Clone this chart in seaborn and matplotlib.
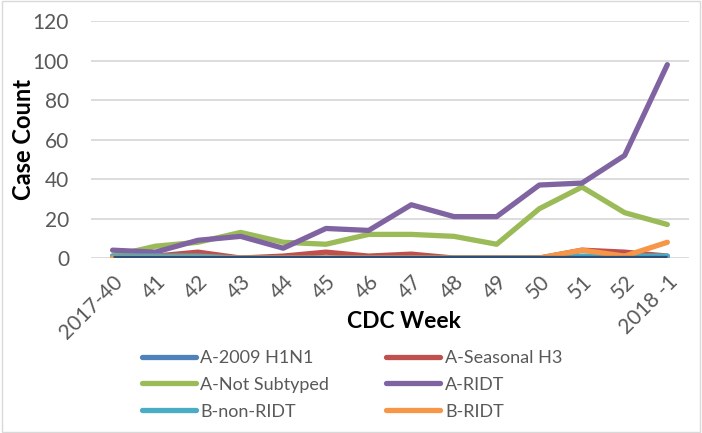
import numpy as np
import pandas as pd
import matplotlib
matplotlib.use("Agg")
import matplotlib.pyplot as plt
from matplotlib.lines import Line2D
from matplotlib.patches import Rectangle
import seaborn as sns

weeks = ['2017-40', '41', '42', '43', '44', '45', '46', '47', '48', '49',
         '50', '51', '52', '2018 -1']
h1n1 = [0, 0, 0, 0, 0, 0, 0, 0, 0, 0, 0, 0, 0, 0]
seasonal_h3 = [1, 1, 3, 0, 1, 3, 1, 2, 0, 0, 0, 4, 3, 1]
not_subtyped = [1, 6, 8, 13, 8, 7, 12, 12, 11, 7, 25, 36, 23, 17]
a_ridt = [4, 3, 9, 11, 5, 15, 14, 27, 21, 21, 37, 38, 52, 98]
b_non_ridt = [1, 1, 1, 0, 0, 0, 0, 0, 0, 0, 0, 1, 1, 1]
b_ridt = [0, 0, 0, 0, 0, 0, 0, 0, 0, 0, 0, 4, 1, 8]

series = {
    'A-2009 H1N1': h1n1,
    'A-Seasonal H3': seasonal_h3,
    'A-Not Subtyped': not_subtyped,
    'A-RIDT': a_ridt,
    'B-non-RIDT': b_non_ridt,
    'B-RIDT': b_ridt,
}
colors = {
    'A-2009 H1N1': '#4F81BD',
    'A-Seasonal H3': '#C0504D',
    'A-Not Subtyped': '#9BBB59',
    'A-RIDT': '#8064A2',
    'B-non-RIDT': '#4BACC6',
    'B-RIDT': '#F79646',
}

rows = []
for name, vals in series.items():
    for i, v in enumerate(vals):
        rows.append({'pos': i, 'count': v, 'series': name})
df = pd.DataFrame(rows)

sns.set_style("white")
plt.rcParams['font.family'] = ['Lato', 'DejaVu Sans']

fig = plt.figure(figsize=(7.02, 4.33), dpi=100)
ax = fig.add_axes([0.130, 0.404, 0.851, 0.547])

order = ['A-Seasonal H3', 'A-Not Subtyped', 'A-RIDT', 'B-non-RIDT', 'B-RIDT']
pal = {k: colors[k] for k in order}
sns.lineplot(data=df[df.series.isin(order)], x='pos', y='count', hue='series',
             hue_order=order, palette=pal, linewidth=3.8, legend=False, ax=ax,
             solid_capstyle='round', solid_joinstyle='round')
# H1N1 line at zero drawn on top (looks darker in the original)
sns.lineplot(x=list(range(len(weeks))), y=h1n1, color='#2E5077', linewidth=3.8,
             ax=ax, zorder=5, solid_capstyle='butt')

ax.set_xlim(-0.5, len(weeks) - 0.5)
ax.set_ylim(0, 120)
ax.set_yticks(range(0, 121, 20))
ax.set_xticks(range(len(weeks)))
ax.set_xticklabels(weeks, rotation=45, ha='right', rotation_mode='anchor')
ax.tick_params(axis='both', labelsize=15, colors='#595959', length=0)
ax.tick_params(axis='y', pad=16)
ax.tick_params(axis='x', pad=10)
ax.grid(axis='y', color='#D9D9D9', linewidth=1.3)
ax.set_axisbelow(True)
for s in ax.spines.values():
    s.set_visible(False)

ax.set_ylabel('Case Count', fontsize=17, fontweight='bold', color='black')
ax.yaxis.set_label_coords(-0.095, 0.5)
ax.set_xlabel('CDC Week', fontsize=16.5, fontweight='bold', color='black')
ax.xaxis.set_label_coords(0.523, -0.225)

# legend filled row-wise like the original (matplotlib fills by column)
names = list(series.keys())
leg_order = names[0::2] + names[1::2]
handles = [Line2D([0], [0], color=colors[k], linewidth=3.8,
                  solid_capstyle='round') for k in leg_order]
leg = fig.legend(handles, leg_order, ncol=2, loc='upper left',
                 bbox_to_anchor=(0.202, 0.192), frameon=False, fontsize=13,
                 borderpad=0, borderaxespad=0, handlelength=3.0,
                 handletextpad=0.25, columnspacing=3.15, labelspacing=0.6)
for t in leg.get_texts():
    t.set_color('#595959')

fig.patches.append(Rectangle((0.003, 0.003), 0.994, 0.994, transform=fig.transFigure,
                             fill=False, edgecolor='#D9D9D9', linewidth=1))

fig.savefig('out.png', dpi=100)
